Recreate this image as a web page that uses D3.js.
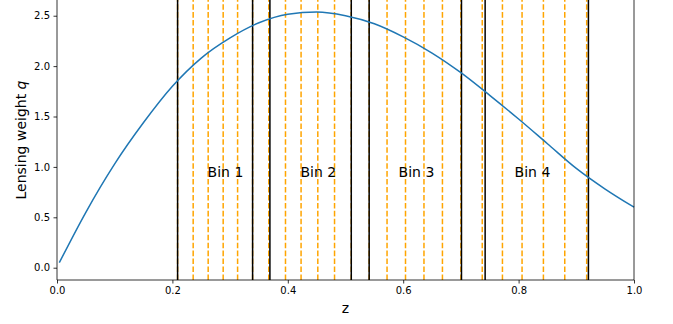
<!DOCTYPE html>
<meta charset="UTF-8">
<html lang="en">
<head><link rel="icon" href="data:,"></head>
<style>
body {
  margin: 0;
  background: #ffffff;
}
svg text {
  font-family: "DejaVu Sans", sans-serif;
}
</style>
<script src="https://unpkg.com/d3@7.0.1/dist/d3.min.js"></script>
<body>
  <svg id="view"></svg>
</body>
<script>
// lensing weight curve
const curveZ = [0.004, 0.05, 0.10, 0.15, 0.20, 0.25, 0.30, 0.35, 0.40, 0.45, 0.50,
                0.55, 0.60, 0.65, 0.70, 0.75, 0.80, 0.85, 0.90, 0.95, 1.00];
const curveQ = [0.05, 0.55, 1.03, 1.44, 1.80, 2.08, 2.28, 2.43, 2.515, 2.537, 2.50,
                2.42, 2.29, 2.13, 1.935, 1.71, 1.475, 1.23, 0.985, 0.78, 0.60];

// bin edges (solid black) and sub-slices (dashed orange)
const binLo = [0.209, 0.369, 0.541, 0.742];
const binHi = [0.339, 0.510, 0.701, 0.921];
const binNames = ["Bin 1", "Bin 2", "Bin 3", "Bin 4"];
const binLabelZ = [0.292, 0.453, 0.623, 0.824];
const binLabelQ = 0.95;
const sliceZ = [0.209, 0.236, 0.262, 0.288, 0.313, 0.339,
                0.367, 0.396, 0.423, 0.452, 0.481, 0.510,
                0.541, 0.572, 0.604, 0.636, 0.668, 0.700,
                0.737, 0.772, 0.806, 0.843, 0.880, 0.918];

const xTicks = [0.0, 0.2, 0.4, 0.6, 0.8, 1.0];
const yTicks = [0.0, 0.5, 1.0, 1.5, 2.0, 2.5];

const viewDims = { width: 673, height: 324 };
const plot = { left: 57, right: 634, top: 0, bottom: 280 };

const svg = d3.select("svg#view")
    .attr("width", viewDims.width)
    .attr("height", viewDims.height);

const x = d3.scaleLinear().domain([0, 1]).range([plot.left, plot.right]);
const y = d3.scaleLinear().domain([-0.122, 2.656]).range([plot.bottom, plot.top]);

// vertical lines: orange slices first, black edges over them
const vlines = svg.append("g").attr("id", "vlines");
vlines.selectAll("line.slice")
    .data(sliceZ)
    .enter()
    .append("line")
    .attr("class", "slice")
    .attr("x1", d => x(d)).attr("x2", d => x(d))
    .attr("y1", plot.bottom).attr("y2", plot.top)
    .attr("stroke", "orange")
    .attr("stroke-width", 1.5)
    .attr("stroke-dasharray", "5.55,2.4");

vlines.selectAll("line.edge")
    .data([...binLo, ...binHi])
    .enter()
    .append("line")
    .attr("class", "edge")
    .attr("x1", d => x(d)).attr("x2", d => x(d))
    .attr("y1", plot.bottom).attr("y2", plot.top)
    .attr("stroke", "black")
    .attr("stroke-width", 1.5);

// the curve
const pts = curveZ.map((z, i) => [z, curveQ[i]]);
svg.append("path")
    .datum(pts)
    .attr("fill", "none")
    .attr("stroke", "#1f77b4")
    .attr("stroke-width", 1.5)
    .attr("d", d3.line().x(d => x(d[0])).y(d => y(d[1])).curve(d3.curveMonotoneX));

// bin labels
svg.append("g").selectAll("text")
    .data(binNames)
    .enter()
    .append("text")
    .attr("x", (d, i) => x(binLabelZ[i]))
    .attr("y", y(binLabelQ) + 5)
    .attr("text-anchor", "middle")
    .attr("font-size", "14px")
    .attr("fill", "black")
    .text(d => d);

// axes
const xAxis = svg.append("g")
    .attr("transform", `translate(0,${plot.bottom})`)
    .call(d3.axisBottom(x).tickValues(xTicks).tickFormat(d3.format(".1f")).tickSizeOuter(0).tickSize(3.5).tickPadding(3.5));
const yAxis = svg.append("g")
    .attr("transform", `translate(${plot.left},0)`)
    .call(d3.axisLeft(y).tickValues(yTicks).tickFormat(d3.format(".1f")).tickSizeOuter(0).tickSize(3.5).tickPadding(3.5));

[xAxis, yAxis].forEach(a => {
    a.select(".domain").remove();
    a.selectAll("line").attr("stroke", "black").attr("stroke-width", 0.8);
    a.selectAll("text").attr("font-size", "10px").attr("fill", "#000")
        .attr("font-family", "DejaVu Sans, sans-serif");
});

// spines
const spines = svg.append("g").attr("stroke", "black").attr("stroke-width", 0.8);
spines.append("line").attr("x1", plot.left).attr("x2", plot.left).attr("y1", plot.top).attr("y2", plot.bottom);
spines.append("line").attr("x1", plot.right).attr("x2", plot.right).attr("y1", plot.top).attr("y2", plot.bottom);
spines.append("line").attr("x1", plot.left).attr("x2", plot.right).attr("y1", plot.bottom).attr("y2", plot.bottom);

// axis labels
svg.append("text")
    .attr("x", (plot.left + plot.right) / 2)
    .attr("y", 313)
    .attr("text-anchor", "middle")
    .attr("font-size", "14px")
    .text("z");

const ylab = svg.append("text")
    .attr("transform", `translate(26,${(plot.top + plot.bottom) / 2}) rotate(-90)`)
    .attr("text-anchor", "middle")
    .attr("font-size", "14px");
ylab.append("tspan").text("Lensing weight ");
ylab.append("tspan").attr("font-style", "italic").text("q");
</script>
</body>
</html>
